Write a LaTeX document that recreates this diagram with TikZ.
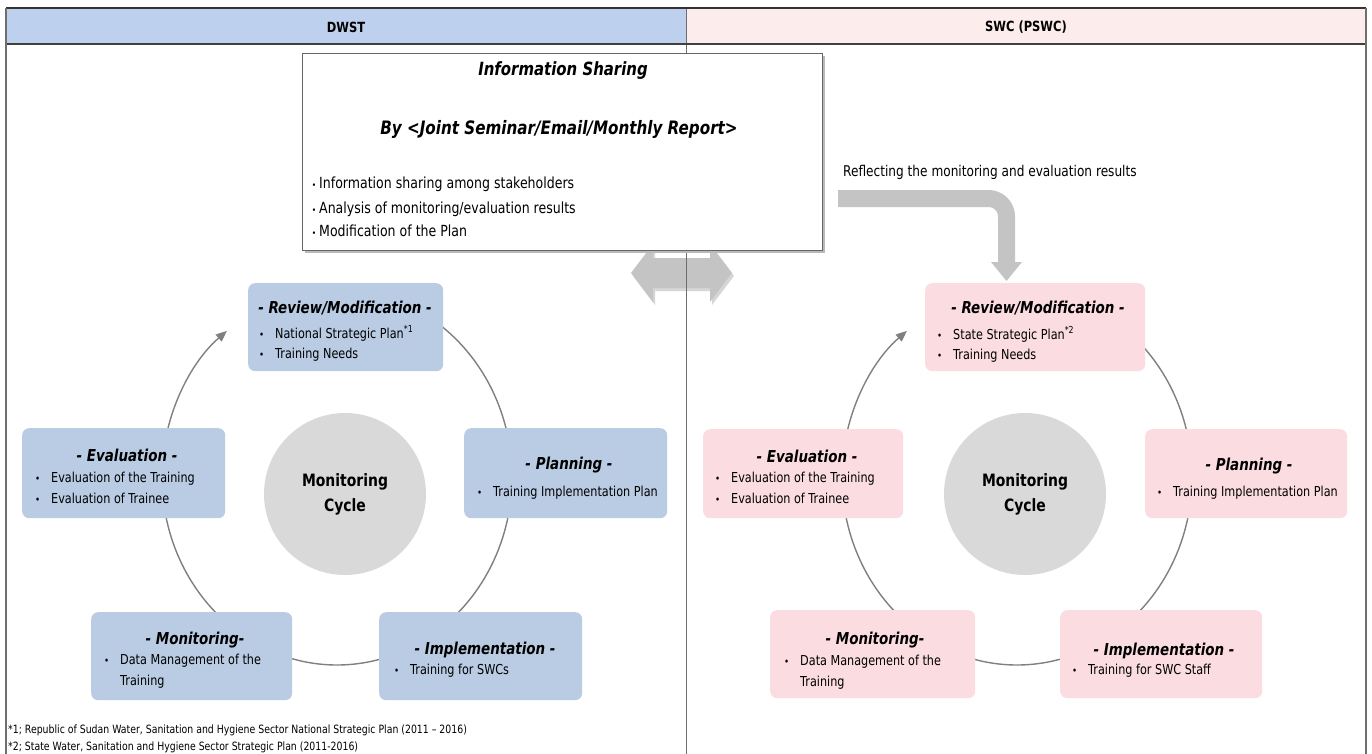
\documentclass[tikz,border=0pt]{standalone}
\usepackage{fontspec}
\setmainfont{DejaVu Sans}[FakeStretch=0.82,
  ItalicFont={DejaVu Sans Oblique},
  BoldFont={DejaVu Sans Bold},
  BoldItalicFont={DejaVu Sans Bold Oblique}]
\usetikzlibrary{arrows.meta,calc}
\definecolor{hdrblue}{HTML}{BDD0EE}
\definecolor{hdrpink}{HTML}{FDECEC}
\definecolor{boxblue}{HTML}{B9CCE4}
\definecolor{boxpink}{HTML}{FBDDE1}
\definecolor{cyclegray}{HTML}{D9D9D9}
\definecolor{arcgray}{HTML}{808080}
\definecolor{arrowgray}{HTML}{C4C4C4}
\definecolor{framegray}{HTML}{6E6E6E}
\newcommand{\bul}{\llap{{\fontsize{10.5}{10}\selectfont •}\hspace{11pt}}}
\newcommand{\ibul}{\llap{{\fontsize{9}{8}\selectfont •}\hspace{3pt}}}
\tikzset{
  cbox/.style={rounded corners=7pt, inner sep=0pt, anchor=north west},
  bluebox/.style={cbox, fill=boxblue},
  pinkbox/.style={cbox, fill=boxpink},
  ttl/.style={font=\fontsize{16.4}{18}\selectfont\bfseries\itshape, anchor=base, inner sep=0pt},
  btx/.style={font=\fontsize{13.7}{16}\selectfont, anchor=base west, inner sep=0pt},
  itx/.style={font=\fontsize{15.3}{17}\selectfont, anchor=base west, inner sep=0pt},
  ftx/.style={font=\fontsize{11.4}{13}\selectfont, anchor=base west, inner sep=0pt},
  hdr/.style={font=\fontsize{14}{16}\selectfont\bfseries, inner sep=0pt},
  cyc/.style={circle, fill=cyclegray, minimum size=162pt, inner sep=0pt, align=center,
    font=\fontsize{17}{25}\selectfont\bfseries},
  cyclearc/.style={draw=arcgray, line width=1.4pt},
  cyclearrow/.style={cyclearc, -{Triangle[length=11pt,width=9pt]}},
}
\begin{document}
\begin{tikzpicture}[x=1pt,y=-1pt]
\useasboundingbox (0,0) rectangle (1372,754);
\fill[white] (0,0) rectangle (1372,754);
% header
\fill[hdrblue] (6,8) rectangle (686,44);
\fill[hdrpink] (686,8) rectangle (1366,44);
\node[hdr] (hL) at (346,27) {DWST};
\node[hdr] (hR) at (1026,27) {SWC (PSWC)};
% double arrow between the sides
\fill[arrowgray!70!gray, opacity=0.5] (633,276) -- (655,247) -- (655,261) -- (712,261) -- (712,247)
  -- (734,276) -- (712,305) -- (712,291) -- (655,291) -- (655,305) -- cycle;
\fill[arrowgray] (631,273) -- (653,244) -- (653,258) -- (710,258) -- (710,244)
  -- (732,273) -- (710,302) -- (710,288) -- (653,288) -- (653,302) -- cycle;
% frame lines
\draw[framegray, line width=0.8pt] (686,8) -- (686,754);
\draw[black!80, line width=1.6pt] (6,8) -- (1366,8);
\draw[black!75, line width=1.4pt] (6,44) -- (1366,44);
\draw[framegray, line width=1.2pt] (6,8) -- (6,754);
\draw[framegray, line width=1.2pt] (1366,8) -- (1366,754);
% information sharing box
\fill[gray!55] (305,56) rectangle (825,253);
\node[draw=gray!80!black, fill=white, anchor=north west, inner sep=0pt,
  minimum width=520pt, minimum height=197pt] (info) at (302,53) {};
\node[font=\fontsize{18.2}{20}\selectfont\bfseries\itshape, anchor=base, inner sep=0pt] (infoT) at (563,76) {Information Sharing};
\node[font=\fontsize{18.5}{20}\selectfont\bfseries\itshape, anchor=base, inner sep=0pt] (infoB) at (559,135) {By <Joint Seminar/Email/Monthly Report>};
\node[itx] (infoI1) at (319,189) {\ibul Information sharing among stakeholders};
\node[itx] (infoI2) at (319,213) {\ibul Analysis of monitoring/evaluation results};
\node[itx] (infoI3) at (319,236) {\ibul Modification of the Plan};
% reflecting arrow
\node[btx, font=\fontsize{14.8}{16}\selectfont] (refl) at (843,177) {Reflecting the monitoring and evaluation results};
\coordinate (bentS) at (838,198.5);
\coordinate (bentC) at (1006.5,198.5);
\coordinate (bentE) at (1006.5,263);
\draw[arrowgray, line width=17pt, rounded corners=18pt] (bentS) -- (bentC) -- (bentE);
\fill[arrowgray] (991,262) -- (1022,262) -- (1006.5,281) -- cycle;

% ---------- left cycle ----------
\coordinate (LC) at (337,477);
\draw[cyclearrow] ($(LC)+(170:175pt and 188pt)$) arc[start angle=170, end angle=129, x radius=175pt, y radius=188pt];
\draw[cyclearc] ($(LC)+(60:175pt and 188pt)$) arc[start angle=60, end angle=10, x radius=175pt, y radius=188pt];
\draw[cyclearc] ($(LC)+(-5:175pt and 188pt)$) arc[start angle=-5, end angle=-60, x radius=175pt, y radius=188pt];
\draw[cyclearc] ($(LC)+(-70:175pt and 188pt)$) arc[start angle=-70, end angle=-110, x radius=175pt, y radius=188pt];
\draw[cyclearc] ($(LC)+(-120:175pt and 188pt)$) arc[start angle=-120, end angle=-190, x radius=175pt, y radius=188pt];

\node[bluebox, minimum width=195pt, minimum height=88pt] (LRev) at (248,283) {};
\node[bluebox, minimum width=203pt, minimum height=90pt] (LEva) at (22,428) {};
\node[bluebox, minimum width=203pt, minimum height=90pt] (LPla) at (464,428) {};
\node[bluebox, minimum width=201pt, minimum height=88pt] (LMon) at (91,612) {};
\node[bluebox, minimum width=203pt, minimum height=88pt] (LImp) at (379,612) {};
\node[cyc] (LCyc) at (345,494) {Monitoring\\Cycle};

\node[ttl] (LRevT) at (345,313) {- Review/Modification -};
\node[btx] (LRev1) at (275,338) {\bul National Strategic Plan\textsuperscript{*1}};
\node[btx] (LRev2) at (275,358) {\bul Training Needs};
\node[ttl] (LEvaT) at (127,461) {- Evaluation -};
\node[btx] (LEva1) at (51,482) {\bul Evaluation of the Training};
\node[btx] (LEva2) at (51,503) {\bul Evaluation of Trainee};
\node[ttl] (LPlaT) at (569,469) {- Planning -};
\node[btx] (LPla1) at (493,496) {\bul Training Implementation Plan};
\node[ttl] (LMonT) at (195,644) {- Monitoring-};
\node[btx] (LMon1) at (120,664) {\bul Data Management of the};
\node[btx] (LMon2) at (120,685) {Training};
\node[ttl] (LImpT) at (485,654) {- Implementation -};
\node[btx] (LImp1) at (410,674) {\bul Training for SWCs};

% ---------- right cycle ----------
\coordinate (RC) at (1017,477);
\draw[cyclearrow] ($(RC)+(170:175pt and 188pt)$) arc[start angle=170, end angle=129, x radius=175pt, y radius=188pt];
\draw[cyclearc] ($(RC)+(60:175pt and 188pt)$) arc[start angle=60, end angle=10, x radius=175pt, y radius=188pt];
\draw[cyclearc] ($(RC)+(-5:175pt and 188pt)$) arc[start angle=-5, end angle=-60, x radius=175pt, y radius=188pt];
\draw[cyclearc] ($(RC)+(-70:175pt and 188pt)$) arc[start angle=-70, end angle=-110, x radius=175pt, y radius=188pt];
\draw[cyclearc] ($(RC)+(-120:175pt and 188pt)$) arc[start angle=-120, end angle=-190, x radius=175pt, y radius=188pt];

\node[pinkbox, minimum width=220pt, minimum height=88pt] (RRev) at (925,283) {};
\node[pinkbox, minimum width=200pt, minimum height=89pt] (REva) at (703,429) {};
\node[pinkbox, minimum width=202pt, minimum height=89pt] (RPla) at (1145,429) {};
\node[pinkbox, minimum width=205pt, minimum height=88pt] (RMon) at (770,610) {};
\node[pinkbox, minimum width=202pt, minimum height=88pt] (RImp) at (1060,610) {};
\node[cyc] (RCyc) at (1025,494) {Monitoring\\Cycle};

\node[ttl] (RRevT) at (1038,313) {- Review/Modification -};
\node[btx] (RRev1) at (953,339) {\bul State Strategic Plan\textsuperscript{*2}};
\node[btx] (RRev2) at (953,359) {\bul Training Needs};
\node[ttl] (REvaT) at (807,462) {- Evaluation -};
\node[btx] (REva1) at (731,482) {\bul Evaluation of the Training};
\node[btx] (REva2) at (731,503) {\bul Evaluation of Trainee};
\node[ttl] (RPlaT) at (1249,470) {- Planning -};
\node[btx] (RPla1) at (1173,496) {\bul Training Implementation Plan};
\node[ttl] (RMonT) at (875,644) {- Monitoring-};
\node[btx] (RMon1) at (800,665) {\bul Data Management of the};
\node[btx] (RMon2) at (800,686) {Training};
\node[ttl] (RImpT) at (1164,655) {- Implementation -};
\node[btx] (RImp1) at (1088,674) {\bul Training for SWC Staff};

% footnotes
\node[ftx] (fn1) at (8,733) {*1; Republic of Sudan Water, Sanitation and Hygiene Sector National Strategic Plan (2011 -- 2016)};
\node[ftx] (fn2) at (8,750) {*2; State Water, Sanitation and Hygiene Sector Strategic Plan (2011-2016)};
\end{tikzpicture}
\end{document}
